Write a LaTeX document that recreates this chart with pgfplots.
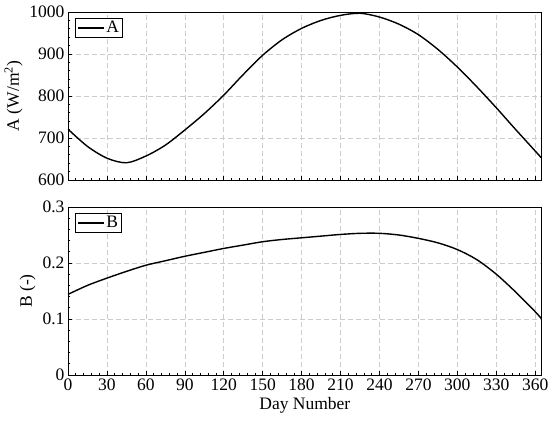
\documentclass[border=0pt]{standalone}
\usepackage{fontspec}
\setmainfont{Liberation Serif}
\usepackage{pgfplots}
\pgfplotsset{compat=1.18}
\newcommand{\chartfont}{\fontsize{17.5}{21}\selectfont}
\begin{document}
\begin{tikzpicture}
\pgfplotsset{
  every axis/.append style={
    width=473.7pt, height=168pt, scale only axis,
    xmin=0, xmax=365,
    xtick={0,30,...,360},
    minor x tick num=4,
    minor y tick num=4,
    tick align=inside,
    xtick pos=bottom, ytick pos=left,
    major tick length=4pt, minor tick length=2.2pt,
    grid=major,
    major grid style={dash pattern=on 5pt off 3pt, black!20, line width=0.6pt},
    axis line style={line width=0.8pt},
    every tick/.style={black, line width=0.6pt},
    tick label style={font=\chartfont},
    label style={font=\chartfont},
    /pgf/number format/assume math mode=true,
    legend style={at={(0,1)}, anchor=north west, xshift=7pt, yshift=-6pt,
      draw=black, line width=0.7pt, font=\chartfont, inner xsep=2pt, inner ysep=1.5pt,
      nodes={inner sep=1.5pt}},
    legend image code/.code={\draw[#1, line width=1.5pt] (0pt,0pt) -- (26pt,0pt);},
    legend cell align=left,
  }
}
\useasboundingbox (-68pt,-243pt) rectangle (482pt,180pt);
\begin{axis}[
  at={(0pt,0pt)}, anchor=south west,
  ymin=600, ymax=1000, ytick={600,700,800,900,1000},
  xticklabels={},
  ylabel={A (W/m\textsuperscript{2})},
  /pgf/number format/1000 sep={},
]
\addplot[black, line width=1.4pt, smooth, tension=0.5] coordinates {
(0,721) (15,680) (30,652) (45,641) (60,657) (75,683) (90,719) (105,758)
(120,802) (135,851) (150,897) (165,934) (180,961) (195,980) (210,992)
(225,997) (240,988) (255,971) (270,946) (285,911) (300,869) (315,822)
(330,772) (345,720) (365,652)
};
\addlegendentry{A}
\end{axis}
\begin{axis}[
  at={(0pt,-195pt)}, anchor=south west,
  ymin=0, ymax=0.3, ytick={0,0.1,0.2,0.3},
  yticklabel style={/pgf/number format/fixed},
  xlabel={Day Number},
  ylabel={B (-)},
]
\addplot[black, line width=1.4pt, smooth, tension=0.5] coordinates {
(0,0.144) (15,0.160) (30,0.173) (45,0.185) (60,0.196) (75,0.204) (90,0.212)
(105,0.219) (120,0.226) (135,0.232) (150,0.238) (165,0.242) (180,0.245)
(195,0.248) (210,0.251) (225,0.253) (240,0.253) (255,0.250) (270,0.244)
(285,0.236) (300,0.224) (315,0.206) (330,0.180) (345,0.148) (360,0.113)
(365,0.100)
};
\addlegendentry{B}
\end{axis}
\end{tikzpicture}
\end{document}
